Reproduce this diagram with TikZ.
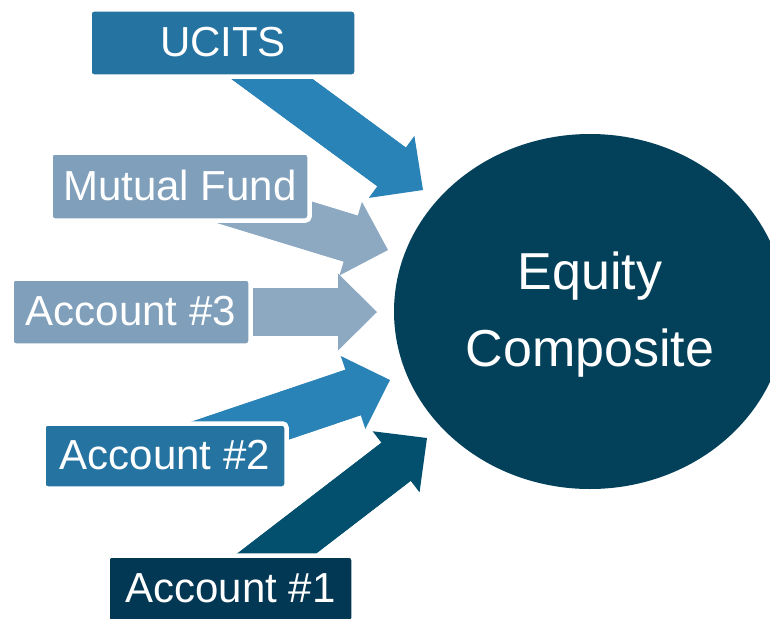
\documentclass[tikz,border=0pt]{standalone}
\usepackage{fontspec}
\setmainfont{Liberation Sans}
\usetikzlibrary{arrows.meta,shapes.geometric,calc}

\definecolor{midArrow}{HTML}{2A83B7}
\definecolor{midBox}{HTML}{2573A1}
\definecolor{lightArrow}{HTML}{8CA9C1}
\definecolor{lightBox}{HTML}{809FBA}
\definecolor{darkArrow}{HTML}{02506E}
\definecolor{darkBox}{HTML}{023853}
\definecolor{coreFill}{HTML}{03415A}

\tikzset{
  srcbox/.style={rectangle, rounded corners=4pt, draw=white, line width=4.5pt,
    inner sep=0pt, text=white, font=\fontsize{42}{50}\selectfont,
    text height=30pt, text depth=3pt, minimum height=67pt},
  blockarrow/.style={line width=48pt,
    -{Triangle[length=39pt,width=77pt,line width=0pt]}},
  shaft/.style={line width=48pt},
}

% block arrow: shaft and head, with the shaft running a little into the head
\newcommand{\blockarr}[3]{%
  \draw[blockarrow, #1] (#2) -- (#3);
  \draw[shaft, #1] (#2) -- ($(#3)!37pt!(#2)$);
}

\begin{document}
\begin{tikzpicture}[x=1pt,y=-1pt]
\useasboundingbox (0,0) rectangle (770,618);

% central composite
\node[ellipse, fill=coreFill, minimum width=392pt, minimum height=355pt, inner sep=0pt]
  (comp) at (590,311.5) {};
\node[text=white, align=center, font=\fontsize{52}{77}\selectfont]
  (complabel) at (590,315) {Equity\\Composite};

% arrow tips next to the composite
\coordinate (tipU) at (423,190);
\coordinate (tipM) at (388,250);
\coordinate (tip3) at (377,312);
\coordinate (tip2) at (390,380);
\coordinate (tip1) at (427,438);

% source positions
\coordinate (pU) at (223,43);
\coordinate (pM) at (180,186.5);
\coordinate (p3) at (131,312);
\coordinate (p2) at (165,456);
\coordinate (p1) at (230.5,589);

% block arrows (drawn first, boxes sit on top)
\blockarr{midArrow}{pU}{tipU}
\blockarr{lightArrow}{pM}{tipM}
\blockarr{lightArrow}{p3}{tip3}
\blockarr{midArrow}{p2}{tip2}
\blockarr{darkArrow}{p1}{tip1}

% source boxes
\node[srcbox, fill=midBox,   minimum width=267pt] (ucits) at (pU) {UCITS};
\node[srcbox, fill=lightBox, minimum width=259pt, minimum height=68pt] (mutual) at (pM) {Mutual Fund};
\node[srcbox, fill=lightBox, minimum width=239pt] (acc3) at (p3) {Account \#3};
\node[srcbox, fill=midBox,   minimum width=243pt, minimum height=65pt] (acc2) at (p2) {Account \#2};
\node[srcbox, fill=darkBox,  minimum width=246pt] (acc1) at (p1) {Account \#1};
\end{tikzpicture}
\end{document}
